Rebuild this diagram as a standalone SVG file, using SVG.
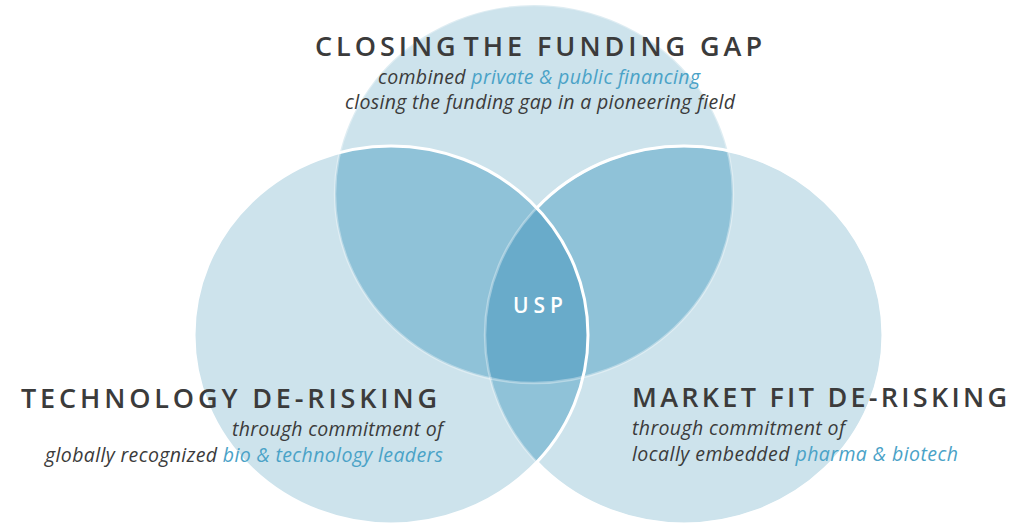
<svg xmlns="http://www.w3.org/2000/svg" width="1013" height="526" viewBox="0 0 1013 526">
  <style>
    .c { fill: #cde3ec; }
    .d { fill: #8fc2d8; }
    .t { fill: #69abca; }
    .faint { fill: none; stroke: #ffffff; stroke-opacity: 0.35; stroke-width: 2.5; }
    .wh { fill: none; stroke: #ffffff; stroke-width: 3; }
    .title { font-family: "Open Sans", "Liberation Sans", sans-serif; font-weight: 600; font-size: 27px; fill: #3b3b3b; }
    .sub { font-family: "Open Sans", "Liberation Sans", sans-serif; font-style: italic; font-size: 19.5px; fill: #3b3b3b; }
    .hl { fill: #4aa2c7; }
    .usp { font-family: "Open Sans", "Liberation Sans", sans-serif; font-weight: 600; font-size: 21px; fill: #ffffff; }
  </style>
  <defs>
    <clipPath id="clipTop"><ellipse cx="534" cy="194" rx="199" ry="189"/></clipPath>
    <clipPath id="clipLeft"><ellipse cx="391" cy="335" rx="197" ry="189"/></clipPath>
    <clipPath id="clipRight"><ellipse cx="684" cy="335" rx="199" ry="189"/></clipPath>
    <mask id="notLeft" maskUnits="userSpaceOnUse" x="0" y="0" width="1013" height="526">
      <rect x="0" y="0" width="1013" height="526" fill="#ffffff"/>
      <ellipse cx="391" cy="335" rx="197" ry="189" fill="#000000"/>
    </mask>
  </defs>

  <g id="shapes">
    <ellipse class="c" cx="534" cy="194" rx="199" ry="189"/>
    <ellipse class="c" cx="684" cy="335" rx="199" ry="189"/>
    <ellipse class="c" cx="391" cy="335" rx="197" ry="189"/>
    <ellipse class="d" cx="534" cy="194" rx="199" ry="189" clip-path="url(#clipLeft)"/>
    <ellipse class="d" cx="534" cy="194" rx="199" ry="189" clip-path="url(#clipRight)"/>
    <ellipse class="d" cx="391" cy="335" rx="197" ry="189" clip-path="url(#clipRight)"/>
    <g clip-path="url(#clipLeft)">
      <ellipse class="t" cx="534" cy="194" rx="199" ry="189" clip-path="url(#clipRight)"/>
    </g>
    <ellipse class="faint" cx="534" cy="194" rx="199" ry="189"/>
    <ellipse class="faint" cx="684" cy="335" rx="199" ry="189"/>
    <ellipse class="wh" cx="684" cy="335" rx="199" ry="189" mask="url(#notLeft)"/>
    <ellipse class="wh" cx="391" cy="335" rx="197" ry="189"/>
  </g>

  <g id="node-funding">
    <text class="title" x="315" y="56" textLength="447" lengthAdjust="spacing">CLOSING<tspan dx="4">THE FUNDING GAP</tspan></text>
    <text class="sub" x="378" y="84" textLength="322" lengthAdjust="spacing">combined <tspan class="hl">private &amp; public financing</tspan></text>
    <text class="sub" x="345" y="109" textLength="390" lengthAdjust="spacing">closing the funding gap in a pioneering field</text>
  </g>

  <g id="node-technology">
    <text class="title" x="21" y="408" textLength="416" lengthAdjust="spacing">TECHNOLOGY DE-RISKING</text>
    <text class="sub" x="232" y="436" textLength="211" lengthAdjust="spacing">through commitment of</text>
    <text class="sub" x="45" y="462" textLength="398" lengthAdjust="spacing">globally recognized <tspan class="hl">bio &amp; technology leaders</tspan></text>
  </g>

  <g id="node-market">
    <text class="title" x="632" y="407" textLength="375" lengthAdjust="spacing">MARKET FIT DE-RISKING</text>
    <text class="sub" x="632" y="435" textLength="213" lengthAdjust="spacing">through commitment of</text>
    <text class="sub" x="632" y="461" textLength="326" lengthAdjust="spacing">locally embedded <tspan class="hl">pharma &amp; biotech</tspan></text>
  </g>

  <g id="node-usp">
    <text class="usp" x="513" y="313" textLength="50" lengthAdjust="spacing">USP</text>
  </g>

  <g id="connectors"></g>
</svg>
